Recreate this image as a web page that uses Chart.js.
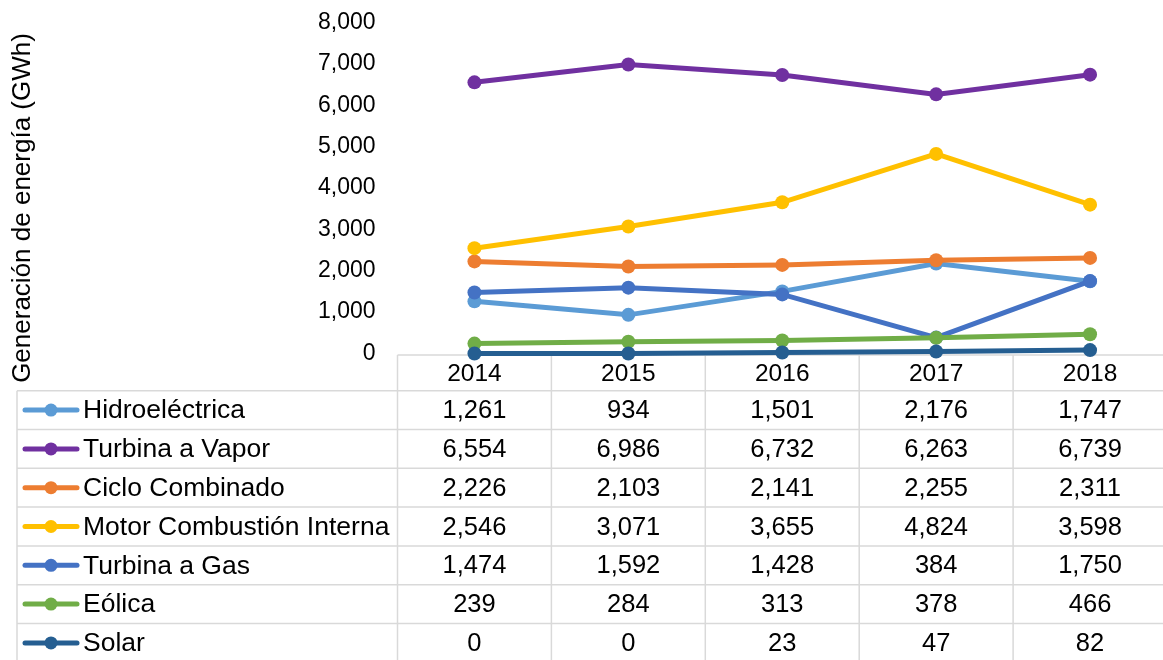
<!DOCTYPE html>
<html>
<head>
<meta charset="utf-8">
<script src="https://cdn.jsdelivr.net/npm/chart.js@4/dist/chart.umd.min.js"></script>
<style>
  html, body { margin: 0; padding: 0; background: #fff; overflow: hidden; }
  #wrap { position: relative; width: 1174px; height: 660px; }
</style>
</head>
<body>
<div id="wrap"><canvas id="grafico"></canvas></div>
<script>
// datos (GWh)
const anios = ['2014', '2015', '2016', '2017', '2018'];
const nombres = ['Hidroeléctrica', 'Turbina a Vapor', 'Ciclo Combinado', 'Motor Combustión Interna', 'Turbina a Gas', 'Eólica', 'Solar'];
const hidroelectrica = [1261, 934, 1501, 2176, 1747];
const turbinaVapor = [6554, 6986, 6732, 6263, 6739];
const cicloCombinado = [2226, 2103, 2141, 2255, 2311];
const motorCombustion = [2546, 3071, 3655, 4824, 3598];
const turbinaGas = [1474, 1592, 1428, 384, 1750];
const eolica = [239, 284, 313, 378, 466];
const solar = [0, 0, 23, 47, 82];
const ejeY = [0, 1000, 2000, 3000, 4000, 5000, 6000, 7000, 8000];

const series = [hidroelectrica, turbinaVapor, cicloCombinado, motorCombustion, turbinaGas, eolica, solar];
const colores = ['#5B9BD5', '#7030A0', '#ED7D31', '#FFC000', '#4472C4', '#70AD47', '#255E91'];
const FUENTE = '"Liberation Sans", Arial, sans-serif';

function formato(v) {
    return v.toLocaleString('en-US');
}

// tabla de datos debajo del grafico
const tablaPlugin = {
    id: 'tablaDatos',
    beforeDatasetsDraw(chart) {
        const ctx = chart.ctx;
        const area = chart.chartArea;
        const escalaX = chart.scales.x;
        const colW = (area.right - area.left) / anios.length;
        const topeCab = area.bottom + 1.5;
        const finCab = 390.7;
        const altoFila = 38.8;
        const izq = 17;
        const fondo = chart.height;

        ctx.save();
        ctx.strokeStyle = '#D9D9D9';
        ctx.lineWidth = 1.5;
        ctx.beginPath();
        ctx.moveTo(area.left, topeCab);
        ctx.lineTo(area.right, topeCab);
        for (let i = 0; i <= nombres.length; i++) {
            const y = finCab + i * altoFila;
            ctx.moveTo(izq, y);
            ctx.lineTo(area.right, y);
        }
        ctx.moveTo(izq, finCab);
        ctx.lineTo(izq, fondo);
        for (let k = 0; k <= anios.length; k++) {
            const x = area.left + k * colW;
            ctx.moveTo(x, topeCab);
            ctx.lineTo(x, fondo);
        }
        ctx.stroke();

        ctx.fillStyle = '#000';
        ctx.textBaseline = 'middle';
        ctx.textAlign = 'center';
        ctx.font = '24.5px ' + FUENTE;
        anios.forEach((a, i) => {
            ctx.fillText(a, escalaX.getPixelForValue(i), (topeCab + finCab) / 2 + 1);
        });

        ctx.font = '25.5px ' + FUENTE;
        series.forEach((datos, s) => {
            const yc = finCab + s * altoFila + altoFila / 2;
            datos.forEach((v, i) => {
                ctx.fillText(formato(v), escalaX.getPixelForValue(i), yc + 1);
            });
        });

        // claves de leyenda
        ctx.textAlign = 'left';
        ctx.font = '26.5px ' + FUENTE;
        nombres.forEach((n, s) => {
            const yc = finCab + s * altoFila + altoFila / 2;
            ctx.strokeStyle = colores[s];
            ctx.lineWidth = 5;
            ctx.lineCap = 'round';
            ctx.beginPath();
            ctx.moveTo(25, yc);
            ctx.lineTo(77, yc);
            ctx.stroke();
            ctx.fillStyle = colores[s];
            ctx.beginPath();
            ctx.arc(51, yc, 6.5, 0, Math.PI * 2);
            ctx.fill();
            ctx.fillStyle = '#000';
            ctx.fillText(n, 83, yc + 1);
        });

        // titulo del eje
        ctx.save();
        ctx.translate(23, 208);
        ctx.rotate(-Math.PI / 2);
        ctx.textAlign = 'center';
        ctx.font = '26px ' + FUENTE;
        ctx.fillText('Generación de energía (GWh)', 0, 0);
        ctx.restore();

        ctx.restore();
    }
};

new Chart(document.getElementById('grafico'), {
    type: 'line',
    data: {
        labels: anios,
        datasets: series.map((datos, s) => ({
            label: nombres[s],
            data: datos,
            borderColor: colores[s],
            backgroundColor: colores[s],
            pointBackgroundColor: colores[s],
            pointBorderColor: colores[s],
            pointRadius: 7,
            pointBorderWidth: 0,
            borderWidth: 5,
            tension: 0,
            clip: false,
            order: series.length - s
        }))
    },
    options: {
        responsive: true,
        maintainAspectRatio: false,
        animation: false,
        layout: {
            padding: { left: 0, right: 0, top: 22.5, bottom: 306.5 }
        },
        plugins: {
            legend: { display: false },
            tooltip: { enabled: false }
        },
        scales: {
            x: {
                display: false,
                offset: true
            },
            y: {
                min: 0,
                max: 8000,
                afterBuildTicks: (scale) => {
                    scale.ticks = ejeY.map(v => ({ value: v }));
                },
                afterFit: (scale) => {
                    scale.width = 397.5;
                    scale.paddingTop = 0;
                    scale.paddingBottom = 0;
                },
                grid: { display: false, drawTicks: false },
                border: { display: false },
                ticks: {
                    padding: 22,
                    color: '#000',
                    font: { family: FUENTE, size: 23 },
                    callback: (v) => formato(v)
                }
            }
        }
    },
    plugins: [tablaPlugin]
});
</script>
</body>
</html>
